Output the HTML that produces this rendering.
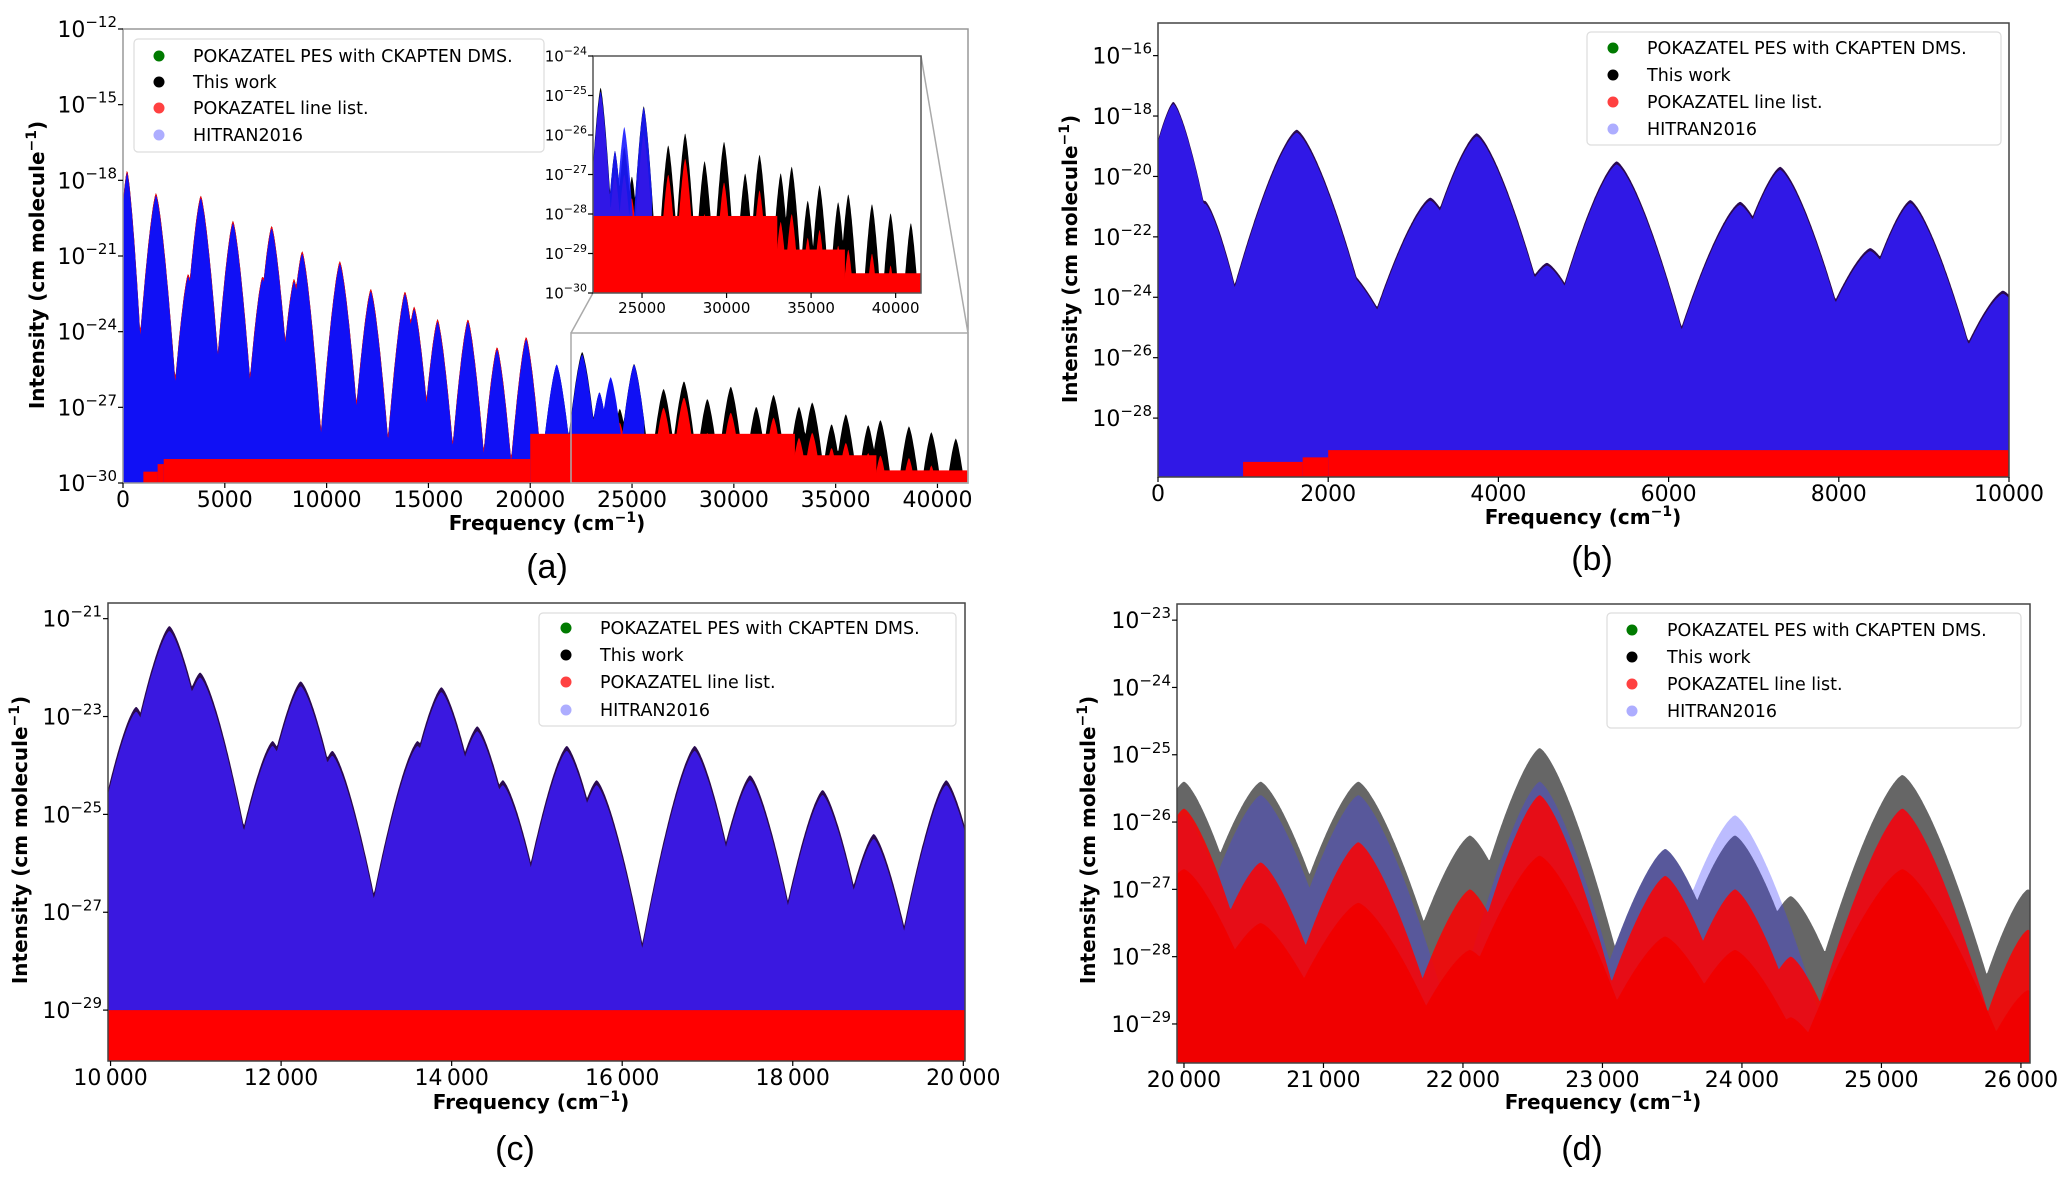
<!DOCTYPE html>
<html><head><meta charset="utf-8"><title>Line intensity comparison</title>
<style>
html,body{margin:0;padding:0;background:#fff;}
svg{display:block;}
text{font-family:"DejaVu Sans","Liberation Sans",sans-serif;}
</style></head>
<body>
<svg id="fig" width="2067" height="1184" viewBox="0 0 2067 1184" xmlns="http://www.w3.org/2000/svg"></svg>
<script>
// ---------- Panel (a): full range 0–41500 cm-1 ----------
const aCenters=[200,1620,3200,3820,5400,6850,7300,8400,8800,10650,12170,13850,14300,15450,16940,18370,19800,21300,22550,23400,23950,24400,25100,26550,27550,28700,29850,31100,31950,33200,33850,34800,35500,36600,37200,38600,39700,40900];
const aBlack=[-17.6,-18.5,-21.7,-18.6,-19.6,-21.8,-19.8,-21.9,-20.8,-21.2,-22.3,-22.4,-23.0,-23.5,-23.5,-24.6,-24.2,-25.3,-24.8,-26.4,-26.3,-27.05,-25.27,-26.26,-25.96,-26.66,-26.17,-26.97,-26.5,-26.97,-26.8,-27.66,-27.27,-27.7,-27.5,-27.75,-27.98,-28.23];
const aRed=[-17.6,-18.5,-21.7,-18.6,-19.6,-21.8,-19.8,-21.9,-20.8,-21.2,-22.3,-22.4,-23.0,-23.5,-23.5,-24.6,-24.2,-26.0,-25.0,-27.0,-27.0,-27.6,-26.0,-27.0,-26.6,-28.0,-27.2,-28.3,-27.4,-28.2,-28.0,-28.6,-28.4,-28.8,-28.9,-29.0,-29.3,-29.6];
const aHitran=[-17.7,-18.6,-21.8,-18.7,-19.7,-21.9,-19.9,-22.0,-20.9,-21.3,-22.4,-22.5,-23.1,-23.6,-23.6,-24.7,-24.3,-25.3,-24.9,-26.4,-25.8,null,-25.3,null,null,null,null,null,null,null,null,null,null,null,null,null,null,null];
const aSlopes=[12,8,8,8,8,8,8,8,8,7.5,7.5,7.5,7.5,7.5,7.5,7.5,7.5,6,6,6,6,6,6,6,6,6,6,6,6,6,6,6,6,6,6,6,6,6];
const aFloorStart=[1000,1700,2000,20000,33000,37000];
const aFloorEnd=[1700,2000,20000,33000,37000,41500];
const aFloorLevel=[-29.55,-29.25,-29.05,-28.05,-28.9,-29.5];
const aXTicks=[0,5000,10000,15000,20000,25000,30000,35000,40000];
const aYTicks=[-30,-27,-24,-21,-18,-15,-12];
const insetXTicks=[25000,30000,35000,40000];
const insetYTicks=[-30,-29,-28,-27,-26,-25,-24];

// ---------- Panel (b): 0–10000 cm-1 ----------
const bCenters=[180,550,1630,2180,3200,3745,4570,5390,6250,6840,7310,8370,8840,9460,9930];
const bBlack=[-17.53,-20.8,-18.45,-22.97,-20.7,-18.57,-22.86,-19.5,-24.8,-20.84,-19.68,-22.37,-20.78,-25.3,-23.78];
const bHitran=[-17.6,-20.9,-18.55,-23.05,-20.8,-18.67,-22.95,-19.6,-24.9,-20.94,-19.78,-22.47,-20.88,-25.4,-23.88];
const bSlopes=[14,12,8,5,7,8,6,8,6,7,8,6,8,6,6];
const bFloorStart=[1000,1700,2000];
const bFloorEnd=[1700,2000,10000];
const bFloorLevel=[-29.45,-29.3,-29.06];
const bXTicks=[0,2000,4000,6000,8000,10000];
const bYTicks=[-28,-26,-24,-22,-20,-18,-16];

// ---------- Panel (c): 10000–20000 cm-1 ----------
const cCenters=[10300,10690,11050,11900,12230,12600,13600,13880,14300,14600,15350,15700,16850,17500,18350,18950,19800];
const cBlack=[-22.8,-21.15,-22.1,-23.5,-22.28,-23.7,-23.5,-22.4,-23.2,-24.3,-23.6,-24.3,-23.6,-24.2,-24.5,-25.4,-24.3];
const cHitran=[-22.9,-21.25,-22.2,-23.6,-22.38,-23.8,-23.6,-22.5,-23.3,-24.4,-23.7,-24.4,-23.7,-24.3,-24.6,-25.5,-24.4];
const cSlopes=[8,8,8,8,8,8,8,8,8,8,8,8,8,8,8,8,8];
const cFloorStart=[9970];
const cFloorEnd=[20020];
const cFloorLevel=[-29.0];
const cXTicks=[10000,12000,14000,16000,18000,20000];
const cYTicks=[-29,-27,-25,-23,-21];

// ---------- Panel (d): 20000–26000 cm-1 ----------
const dCenters=[20000,20550,21250,22050,22550,23450,23950,24350,25150,26050];
const dBlack=[-25.4,-25.4,-25.4,-26.2,-24.9,-26.4,-26.2,-27.1,-25.3,-27.0];
const dRed=[-25.8,-26.6,-26.3,-27.0,-25.6,-26.8,-27.0,-28.0,-25.8,-27.6];
const dHitran=[-25.9,-25.6,-25.6,null,-25.4,-26.4,-25.9,null,-25.8,null];
const dSlopes=[7,6,6,6,7,6,6,6,6,7];
const dFloorStart=[19950];
const dFloorEnd=[26065];
const dFloorLevel=[-29.15];
const dXTicks=[20000,21000,22000,23000,24000,25000,26000];
const dYTicks=[-29,-28,-27,-26,-25,-24,-23];

const SHAPE_POW=1.4;
const NS='http://www.w3.org/2000/svg';
const svg=document.getElementById('fig');
function el(tag,attrs,parent){const e=document.createElementNS(NS,tag);for(const k in attrs)e.setAttribute(k,attrs[k]);(parent||svg).appendChild(e);return e;}
function lin(d0,d1,r0,r1){return v=>r0+(v-d0)/(d1-d0)*(r1-r0);}
function envAt(x,centers,peaks,slopes){let m=-99;for(let i=0;i<centers.length;i++){if(peaks[i]===null)continue;const v=peaks[i]-slopes[i]*Math.pow(Math.abs(x-centers[i])/1000,SHAPE_POW);if(v>m)m=v;}return m;}
function envPath(P,centers,peaks,slopes,x0,x1){
  const n=900;let d='M'+P.sx(x0).toFixed(1)+','+P.y1;
  for(let k=0;k<=n;k++){const x=x0+(x1-x0)*k/n;let v=envAt(x,centers,peaks,slopes);let y=P.sy(v);if(y>P.y1)y=P.y1;d+=' L'+P.sx(x).toFixed(1)+','+y.toFixed(1);}
  return d+' L'+P.sx(x1).toFixed(1)+','+P.y1+' Z';
}
let clipId=0;
function makePanel(cfg){
  const P=Object.assign({},cfg);
  P.sx=lin(cfg.xd0,cfg.xd1,cfg.x0,cfg.x1);
  P.sy=lin(cfg.yd0,cfg.yd1,cfg.y1,cfg.y0);
  const g=el('g',{});
  
  
  const id='clip'+(clipId++);
  const cp=el('clipPath',{id:id},g);
  el('rect',{x:cfg.x0,y:cfg.y0,width:cfg.x1-cfg.x0,height:cfg.y1-cfg.y0},cp);
  el('rect',{x:cfg.x0,y:cfg.y0,width:cfg.x1-cfg.x0,height:cfg.y1-cfg.y0,fill:'#fff'},g);
  P.g=g;P.plot=el('g',{'clip-path':'url(#'+id+')'},g);
  return P;
}
function addEnv(P,name,centers,peaks,slopes,x0,x1,fill,op){
  const p=el('path',{d:envPath(P,centers,peaks,slopes,x0,x1),fill:fill,'fill-opacity':op,stroke:'none'},P.plot);
  
  
}
function addFloor(P,starts,ends,levels,fill){
  for(let i=0;i<starts.length;i++){
    const r=el('rect',{x:P.sx(starts[i]),y:P.sy(levels[i]),width:P.sx(ends[i])-P.sx(starts[i]),height:P.y1-P.sy(levels[i]),fill:fill},P.plot);
    
    
  }
}
function fmtNum(v,sp){const s=String(v);if(!sp||s.length<5)return s;return s.slice(0,s.length-3)+'\u2009'+s.slice(-3);}
function axes(P,xticks,yticks,o){
  const fs=o.fs||22,sup=o.sup||15;
  el('rect',{x:P.x0,y:P.y0,width:P.x1-P.x0,height:P.y1-P.y0,fill:'none',stroke:o.frame||'#444','stroke-width':o.sw||1.5},P.g);
  xticks.forEach(t=>{const x=P.sx(t);
    el('line',{x1:x,x2:x,y1:P.y1,y2:P.y1+5,stroke:'#000','stroke-width':1.2},P.g);
    const tx=el('text',{x:x,y:P.y1+(o.xty||24),'font-size':fs,'text-anchor':'middle',fill:'#000'},P.g);tx.textContent=fmtNum(t,o.space);
    
    
  });
  yticks.forEach(t=>{const y=P.sy(t);
    el('line',{x1:P.x0-5,x2:P.x0,y1:y,y2:y,stroke:'#000','stroke-width':1.2},P.g);
    const tx=el('text',{x:P.x0-6,y:y+fs*0.36,'font-size':fs,'text-anchor':'end',fill:'#000'},P.g);
    
    
    tx.appendChild(document.createTextNode('10'));
    const ts=document.createElementNS(NS,'tspan');ts.setAttribute('dy',-fs*0.45);ts.setAttribute('font-size',sup);ts.textContent='\u2212'+Math.abs(t);tx.appendChild(ts);
  });
}
function titles(P,xl,yl,lab){
  const t1=el('text',{x:xl[0],y:xl[1],'font-size':20,'font-weight':'bold','text-anchor':'middle'},P.g);
  
  t1.appendChild(document.createTextNode('Frequency (cm'));
  let s=document.createElementNS(NS,'tspan');s.setAttribute('dy',-8);s.setAttribute('font-size',14);s.textContent='\u22121';t1.appendChild(s);
  s=document.createElementNS(NS,'tspan');s.setAttribute('dy',8);s.textContent=')';t1.appendChild(s);
  const t2=el('text',{x:0,y:0,'font-size':20,'font-weight':'bold','text-anchor':'middle',transform:'translate('+yl[0]+','+yl[1]+') rotate(-90)'},P.g);
  
  t2.appendChild(document.createTextNode('Intensity (cm molecule'));
  s=document.createElementNS(NS,'tspan');s.setAttribute('dy',-8);s.setAttribute('font-size',14);s.textContent='\u22121';t2.appendChild(s);
  s=document.createElementNS(NS,'tspan');s.setAttribute('dy',8);s.textContent=')';t2.appendChild(s);
  const t3=el('text',{x:lab[0],y:lab[1],'font-size':34,'text-anchor':'middle',style:'font-family:"Liberation Sans",sans-serif'},P.g);
  
  t3.textContent=lab[2];
}
const legItems=[['POKAZATEL PES with CKAPTEN DMS.','#007a00',1],['This work','#000',1],['POKAZATEL line list.','#ff2020',0.85],['HITRAN2016','#8a8aff',0.7]];
function legend(P,box,mx,tx,rows){
  const g=el('g',{},P.g);
  
  el('rect',{x:box[0],y:box[1],width:box[2]-box[0],height:box[3]-box[1],rx:4,fill:'#fff','fill-opacity':0.9,stroke:'#ddd','stroke-width':1.2},g);
  legItems.forEach((it,i)=>{
    const c=el('circle',{cx:mx,cy:rows[i],r:5.5,fill:it[1],'fill-opacity':it[2]},g);
    
    const t=el('text',{x:tx,y:rows[i]+6,'font-size':17.5,fill:'#000'},g);t.textContent=it[0];
    
  });
}

// ===== Panel (a) =====
const A=makePanel({name:'panel-a',x0:123,x1:968,y0:29,y1:483,xd0:0,xd1:41500,yd0:-30,yd1:-12});
addEnv(A,'this-work-series',aCenters,aBlack,aSlopes,0,41500,'#000',1);
addEnv(A,'pokazatel-series',aCenters,aRed,aSlopes,0,41500,'#ff0000',1);
addEnv(A,'hitran-series',aCenters,aHitran,aSlopes,0,25600,'#1010f5',1);
addFloor(A,aFloorStart,aFloorEnd,aFloorLevel,'#ff0000');
axes(A,aXTicks,aYTicks,{fs:22,sup:15,frame:'#999'});
titles(A,[547,530],[44,265],[547,578,'(a)']);
legend(A,[134,39,544,152],159,193,[56,82,108,135]);
// zoom indicator
const zr=el('rect',{x:571,y:333,width:397,height:150,fill:'none',stroke:'#aaa','stroke-width':1.5},A.g);

el('line',{x1:593,y1:293,x2:571,y2:333,stroke:'#aaa','stroke-width':1.5},A.g);
el('line',{x1:921,y1:56,x2:968,y2:333,stroke:'#aaa','stroke-width':1.5},A.g);
// inset
const I=makePanel({name:'inset-a',x0:593,x1:921,y0:56,y1:293,xd0:22100,xd1:41500,yd0:-30,yd1:-24});
addEnv(I,'inset-this-work',aCenters,aBlack,aSlopes,22100,41500,'#000',1);
addEnv(I,'inset-pokazatel',aCenters,aRed,aSlopes,22100,41500,'#ff0000',1);
addEnv(I,'inset-hitran',aCenters,aHitran,aSlopes,22100,25600,'#1a1aff',0.9);
addFloor(I,aFloorStart,aFloorEnd,aFloorLevel,'#ff0000');
axes(I,insetXTicks,insetYTicks,{fs:15,sup:11,frame:'#555',xty:20});

// ===== Panel (b) =====
const B=makePanel({name:'panel-b',x0:1158,x1:2009,y0:23,y1:477,xd0:0,xd1:10000,yd0:-29.95,yd1:-14.92});
addEnv(B,'this-work-series',bCenters,bBlack,bSlopes,0,10000,'#2a0a50',1);
addEnv(B,'hitran-series',bCenters,bHitran,bSlopes,0,10000,'#3018e6',1);
addFloor(B,bFloorStart,bFloorEnd,bFloorLevel,'#ff0000');
axes(B,bXTicks,bYTicks,{fs:22,sup:15});
titles(B,[1583,524],[1077,259],[1592,570,'(b)']);
legend(B,[1587,32,2001,145],1613,1647,[48,75,102,129]);

// ===== Panel (c) =====
const C=makePanel({name:'panel-c',x0:108,x1:965,y0:603,y1:1061,xd0:9970,xd1:20020,yd0:-30.04,yd1:-20.68});
addEnv(C,'this-work-series',cCenters,cBlack,cSlopes,9970,20020,'#2a0a50',1);
addEnv(C,'hitran-series',cCenters,cHitran,cSlopes,9970,20020,'#3a18e0',1);
addFloor(C,cFloorStart,cFloorEnd,cFloorLevel,'#ff0000');
axes(C,cXTicks,cYTicks,{fs:22,sup:15,space:true});
titles(C,[531,1109],[27,840],[515,1160,'(c)']);
legend(C,[539,613,956,726],566,600,[628,655,682,710]);

// ===== Panel (d) =====
const D=makePanel({name:'panel-d',x0:1177,x1:2030,y0:604,y1:1063,xd0:19950,xd1:26065,yd0:-29.58,yd1:-22.76});
addEnv(D,'this-work-series',dCenters,dBlack,dSlopes,19950,26065,'#000',0.6);
addEnv(D,'hitran-series',dCenters,dHitran,dSlopes,19950,26065,'#4040ff',0.35);
addEnv(D,'pokazatel-series',dCenters,dRed,dSlopes,19950,26065,'#ff0000',0.85);
addEnv(D,'pokazatel-dense',dCenters,dRed.map(v=>v-0.9),dSlopes.map(s=>s*0.7),19950,26065,'#f00000',1);
addFloor(D,dFloorStart,dFloorEnd,dFloorLevel,'#f00000');
axes(D,dXTicks,dYTicks,{fs:22,sup:15,space:true});
titles(D,[1603,1109],[1095,840],[1582,1160,'(d)']);
legend(D,[1607,613,2021,728],1632,1667,[630,657,684,711]);
</script>
</body></html>
